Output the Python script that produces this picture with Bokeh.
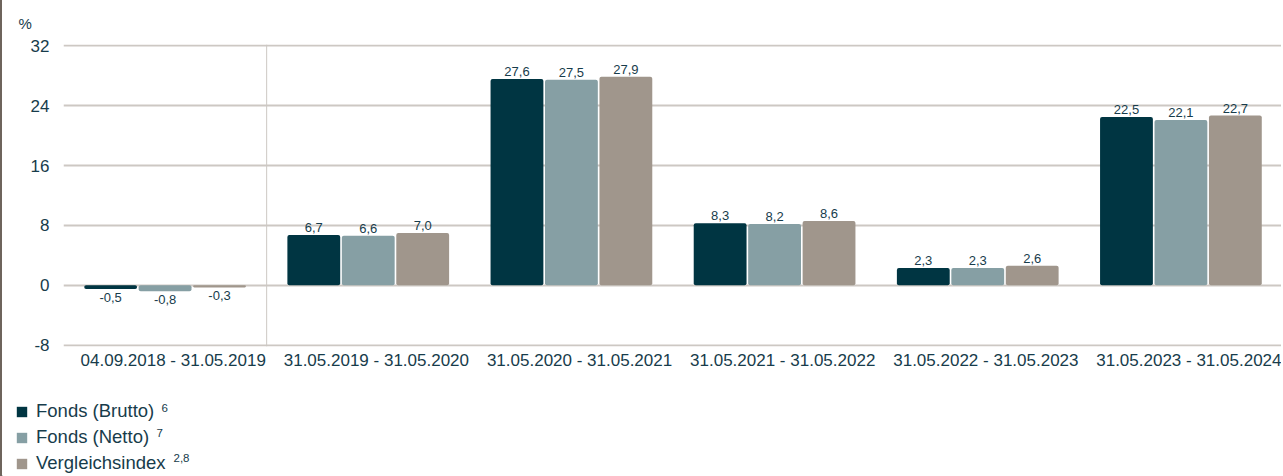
from bokeh.plotting import figure
from bokeh.models import (ColumnDataSource, Range1d, FixedTicker, Span, Label,
                          Legend, LegendItem)
from bokeh.core.properties import value
from bokeh.embed import file_html
from bokeh.resources import INLINE

categories = ["04.09.2018 - 31.05.2019", "31.05.2019 - 31.05.2020",
              "31.05.2020 - 31.05.2021", "31.05.2021 - 31.05.2022",
              "31.05.2022 - 31.05.2023", "31.05.2023 - 31.05.2024"]
brutto = [-0.5, 6.7, 27.6, 8.3, 2.3, 22.5]
netto = [-0.8, 6.6, 27.5, 8.2, 2.3, 22.1]
vergleich = [-0.3, 7.0, 27.9, 8.6, 2.6, 22.7]
series_names = ["Fonds (Brutto)", "Fonds (Netto)", "Vergleichsindex"]
series_notes = ["6", "7", "2,8"]
series_colors = ["#003542", "#869fa4", "#a0968c"]
y_ticks = [-8, 0, 8, 16, 24, 32]

FONT = "Liberation Sans"
TXT = "#173c4b"
GRID = "#cdc8c3"
EDGE = {"border-left": "2px solid #6e645c"}

p = figure(width=1281, height=385, output_backend="svg", toolbar_location=None,
           x_range=Range1d(-0.5, len(categories) - 0.5), y_range=Range1d(-8.2, 32.2),
           min_border_left=61, min_border_right=1, min_border_top=44,
           min_border_bottom=39, styles=EDGE)
p.outline_line_color = None
p.background_fill_color = "white"
p.border_fill_color = "white"

p.title.text = "%"
p.title.align = "left"
p.title.offset = -45
p.title.standoff = 25
p.title.text_font = FONT
p.title.text_font_size = "15px"
p.title.text_font_style = "normal"
p.title.text_color = TXT

p.xgrid.grid_line_color = None
p.ygrid.grid_line_color = GRID
p.ygrid.grid_line_width = 2
p.ygrid.ticker = FixedTicker(ticks=y_ticks)

p.yaxis.ticker = FixedTicker(ticks=y_ticks)
p.yaxis.major_label_overrides = {t: str(t) for t in y_ticks}
p.yaxis.axis_line_color = None
p.yaxis.major_tick_line_color = None
p.yaxis.minor_tick_line_color = None
p.yaxis.major_tick_out = 0
p.yaxis.major_tick_in = 0
p.yaxis.minor_tick_out = 0
p.yaxis.major_label_standoff = 14
p.yaxis.major_label_text_font = FONT
p.yaxis.major_label_text_font_size = "17px"
p.yaxis.major_label_text_color = TXT

shift = 0.04
xt = [round(i + shift, 2) for i in range(len(categories))]
p.xaxis.ticker = FixedTicker(ticks=xt)
p.xaxis.major_label_overrides = {t: c for t, c in zip(xt, categories)}
p.xaxis.axis_line_color = None
p.xaxis.major_tick_line_color = None
p.xaxis.minor_tick_line_color = None
p.xaxis.major_tick_out = 0
p.xaxis.major_tick_in = 0
p.xaxis.minor_tick_out = 0
p.xaxis.major_label_standoff = 4
p.xaxis.major_label_text_font = FONT
p.xaxis.major_label_text_font_size = "17px"
p.xaxis.major_label_text_color = TXT

p.add_layout(Span(location=0.5, dimension="height", line_color=GRID, line_width=1))

# legend figure (pixel-sized data ranges)
LW, LH = 1281, 91
lg = figure(width=LW, height=LH, output_backend="svg", toolbar_location=None,
            x_range=Range1d(0, LW), y_range=Range1d(0, LH),
            min_border=0, styles=EDGE)
lg.outline_line_color = None
lg.axis.visible = False
lg.grid.visible = False
lg.border_fill_color = "white"
lg.background_fill_color = "white"

offsets = [-0.268, 0.0, 0.268]
items = []
for vals, name, col, off in zip([brutto, netto, vergleich], series_names, series_colors, offsets):
    xs = [i + off for i in range(len(categories))]
    labels = [f"{v:.1f}".replace(".", ",") for v in vals]
    pos = [k for k, v in enumerate(vals) if v >= 0]
    neg = [k for k, v in enumerate(vals) if v < 0]
    src = ColumnDataSource(dict(x=xs, top=vals, label=labels))
    p.vbar(x="x", top="top", bottom=0, width=0.26, source=src, fill_color=col,
           line_color=None, border_radius=2)
    sp = ColumnDataSource(dict(x=[xs[k] for k in pos], y=[vals[k] for k in pos],
                               t=[labels[k] for k in pos]))
    sn = ColumnDataSource(dict(x=[xs[k] for k in neg], y=[vals[k] for k in neg],
                               t=[labels[k] for k in neg]))
    p.text(x="x", y="y", text="t", source=sp, text_align="center",
           text_baseline="bottom", y_offset=-3, text_font=value(FONT),
           text_font_size="13px", text_color=TXT)
    p.text(x="x", y="y", text="t", source=sn, text_align="center",
           text_baseline="top", y_offset=4, text_font=value(FONT),
           text_font_size="13px", text_color=TXT)
    dummy = lg.vbar(x=[-100], top=[1], width=1, fill_color=col, line_color=None)
    items.append(LegendItem(label=name, renderers=[dummy]))

legend = Legend(items=items, location=(13, 2), orientation="vertical",
                glyph_width=13, glyph_height=13, label_height=20, spacing=4,
                label_standoff=8, padding=0, margin=0,
                border_line_color=None, background_fill_alpha=0,
                label_text_font=FONT, label_text_font_size="18.5px",
                label_text_color=TXT)
lg.add_layout(legend, "center")

for note, nx, ny in zip(series_notes, [159, 154, 171], [73, 48, 23]):
    lg.add_layout(Label(x=nx, y=ny, text=note, text_font=FONT, text_font_size="11.5px",
                        text_color=TXT, text_baseline="top"))

open("out.html", "w").write(file_html([p, lg], INLINE))
